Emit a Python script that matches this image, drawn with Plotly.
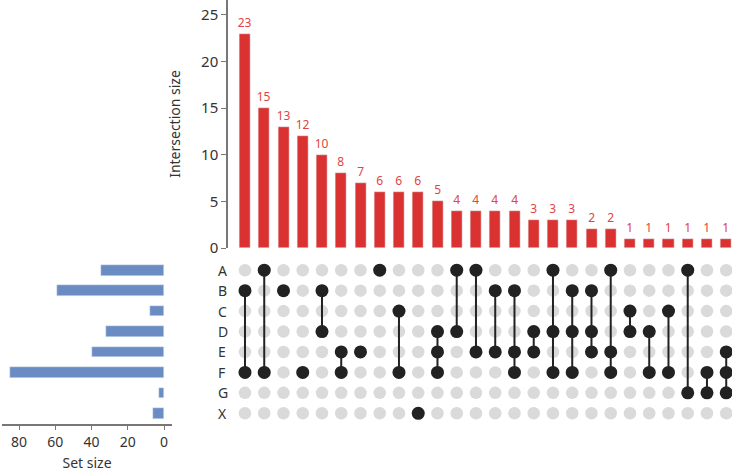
import plotly.graph_objects as go

W, H = 732, 472

sets = ['A', 'B', 'C', 'D', 'E', 'F', 'G', 'X']
set_size = [35, 59, 8, 32, 40, 85, 3, 6]

inter_size = [23, 15, 13, 12, 10, 8, 7, 6, 6, 6, 5, 4, 4, 4, 4, 3, 3, 3, 2, 2, 1, 1, 1, 1, 1, 1]
inter_sets = [
    ['B', 'F'], ['A', 'F'], ['B'], ['F'], ['B', 'D'], ['E', 'F'], ['E'], ['A'],
    ['C', 'F'], ['X'], ['D', 'E', 'F'], ['A', 'D'], ['A', 'E'], ['B', 'E'],
    ['B', 'E', 'F'], ['D', 'E'], ['A', 'D', 'F'], ['B', 'D', 'F'], ['B', 'D', 'E'],
    ['A', 'E', 'F'], ['C', 'D'], ['D', 'F'], ['C', 'F'], ['A', 'G'], ['F', 'G'],
    ['E', 'F', 'G'],
]

RED = '#d93230'
BLUE = '#6b8cc2'
DOT = '#222222'
GREY = '#dadada'
FONT = 'Noto Sans'

cols = list(range(len(inter_size)))
fig = go.Figure()

# intersection bars
fig.add_trace(go.Bar(
    x=cols, y=inter_size, marker_color=RED, width=0.58,
    text=[str(v) for v in inter_size], textposition='outside',
    textfont=dict(color='#e04443', size=12, family=FONT),
    constraintext='none',
    cliponaxis=False, xaxis='x', yaxis='y', showlegend=False,
))

# matrix background dots
gx, gy = [], []
for c in cols:
    for r in range(len(sets)):
        gx.append(c)
        gy.append(r)
fig.add_trace(go.Scatter(
    x=gx, y=gy, mode='markers', marker=dict(size=12.5, color=GREY),
    xaxis='x2', yaxis='y2', showlegend=False,
))

# connecting lines + filled dots
lx, ly, dx, dy = [], [], [], []
for c, members in zip(cols, inter_sets):
    rows = [sets.index(s) for s in members]
    if len(rows) > 1:
        lx += [c, c, None]
        ly += [min(rows), max(rows), None]
    for r in rows:
        dx.append(c)
        dy.append(r)
fig.add_trace(go.Scatter(
    x=lx, y=ly, mode='lines', line=dict(color=DOT, width=2),
    xaxis='x2', yaxis='y2', showlegend=False,
))
fig.add_trace(go.Scatter(
    x=dx, y=dy, mode='markers', marker=dict(size=13, color=DOT),
    xaxis='x2', yaxis='y2', showlegend=False,
))

# set size bars
fig.add_trace(go.Bar(
    x=set_size, y=list(range(len(sets))), orientation='h', marker_color=BLUE,
    width=0.52, xaxis='x3', yaxis='y3', showlegend=False,
))

# set labels
for i, s in enumerate(sets):
    fig.add_annotation(x=216 / W, xref='paper', y=i, yref='y2', text=s,
                       showarrow=False, font=dict(size=14, color='#333', family=FONT))

top_dom = [1 - 248 / H, 1]
mat_dom = [1 - 423.5 / H, 1 - 260 / H]
xdom = [234.4 / W, 1]
xrng = [-0.55, 25.3]

fig.update_layout(
    width=W, height=H,
    margin=dict(l=0, r=0, t=0, b=0),
    paper_bgcolor='white', plot_bgcolor='white',
    font=dict(family=FONT, color='#333'),
    bargap=0,
    xaxis=dict(domain=xdom, range=xrng, visible=False, anchor='y'),
    yaxis=dict(domain=top_dom, range=[0, 26.6], anchor='free', position=227 / W,
               showline=True, linecolor='#777', linewidth=1.5, ticks='outside',
               ticklen=5, tickcolor='#777', tickvals=[0, 5, 10, 15, 20, 25],
               tickfont=dict(size=15, color='#333'), showgrid=False, zeroline=False,
               title=dict(text='Intersection size', font=dict(size=14, color='#333'),
                          standoff=16),
               automargin=False),
    xaxis2=dict(domain=xdom, range=xrng, visible=False, anchor='y2'),
    yaxis2=dict(domain=mat_dom, range=[7.5, -0.5], visible=False, anchor='x2'),
    xaxis3=dict(domain=[2 / W, 172 / W], range=[89.4, -4.4], anchor='y3',
                showline=True, linecolor='#777', linewidth=1.5, ticks='outside',
                ticklen=5, tickcolor='#777', tickvals=[0, 20, 40, 60, 80],
                tickfont=dict(size=14, color='#333'), showgrid=False, zeroline=False,
                title=dict(text='Set size', font=dict(size=14, color='#333'), standoff=8),
                automargin=False),
    yaxis3=dict(domain=mat_dom, range=[7.5, -0.5], visible=False, anchor='x3'),
)

# page body has a default margin; drop it so the figure fills the window
fig.write_html('out.html', config={'displayModeBar': False},
               post_script="document.body.style.margin='0';")
